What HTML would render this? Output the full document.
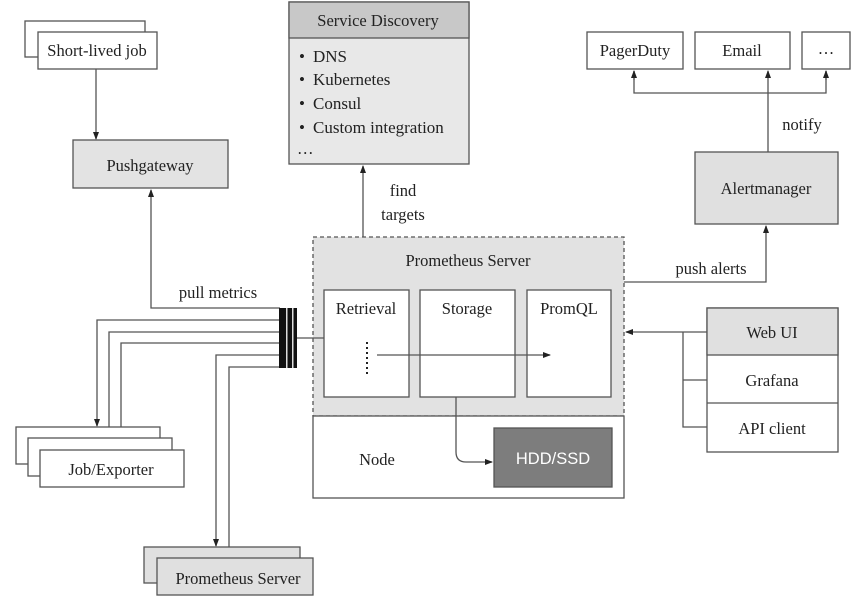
<!DOCTYPE html>
<html><head><meta charset="utf-8"><style>
body{margin:0;background:#fff}
svg text{font-family:"Liberation Serif",serif;font-size:16.5px;fill:#222}
svg text.l{font-size:17px}
</style></head><body>
<svg width="865" height="597" viewBox="0 0 865 597" xmlns="http://www.w3.org/2000/svg">
<defs><marker id="a" markerWidth="8" markerHeight="8" refX="7" refY="4" orient="auto" markerUnits="userSpaceOnUse"><path d="M0,1 L8,4 L0,7 Z" fill="#222"/></marker></defs>
<g stroke="#555" stroke-width="1.3" fill="none">
<rect x="25" y="21" width="120" height="36" fill="#fff"/>
<rect x="38" y="32" width="119" height="37" fill="#fff"/>
<line x1="96" y1="69" x2="96" y2="139" marker-end="url(#a)"/>
<rect x="73" y="140" width="155" height="48" fill="#e3e3e3"/>
<polyline points="280,308 151,308 151,190" marker-end="url(#a)"/>
<rect x="289" y="2" width="180" height="162" fill="#e8e8e8"/>
<rect x="289" y="2" width="180" height="36" fill="#c8c8c8"/>
<line x1="363" y1="290" x2="363" y2="166" marker-end="url(#a)"/>
<rect x="313" y="237" width="311" height="179" fill="#e2e2e2" stroke-dasharray="4,3"/>
<rect x="313" y="416" width="311" height="82" fill="#fff"/>
<rect x="324" y="290" width="85" height="107" fill="#fff"/>
<rect x="420" y="290" width="95" height="107" fill="#fff"/>
<rect x="527" y="290" width="84" height="107" fill="#fff"/>
<line x1="367" y1="342" x2="367" y2="374" stroke="#222" stroke-width="2" stroke-dasharray="2,3"/>
<line x1="377" y1="355" x2="550" y2="355" marker-end="url(#a)"/>
<rect x="494" y="428" width="118" height="59" fill="#7d7d7d"/>
<path d="M456,397 V452 Q456,462 466,462 H492" marker-end="url(#a)"/>
<line x1="297" y1="338" x2="324" y2="338"/>
<polyline points="280,320 97,320 97,426" marker-end="url(#a)"/>
<polyline points="280,332 109,332 109,437" marker-end="url(#a)"/>
<polyline points="280,343 121,343 121,449" marker-end="url(#a)"/>
<polyline points="280,355 216,355 216,546" marker-end="url(#a)"/>
<polyline points="280,367 229,367 229,557" marker-end="url(#a)"/>
<rect x="16" y="427" width="144" height="37" fill="#fff"/>
<rect x="28" y="438" width="144" height="38" fill="#fff"/>
<rect x="40" y="450" width="144" height="37" fill="#fff"/>
<rect x="144" y="547" width="156" height="36" fill="#e0e0e0"/>
<rect x="157" y="558" width="156" height="37" fill="#e0e0e0"/>
<rect x="587" y="32" width="96" height="37" fill="#fff"/>
<rect x="695" y="32" width="95" height="37" fill="#fff"/>
<rect x="802" y="32" width="48" height="37" fill="#fff"/>
<polyline points="634,71 634,93 826,93 826,71"/>
<line x1="634" y1="80" x2="634" y2="71" marker-end="url(#a)"/>
<line x1="826" y1="80" x2="826" y2="71" marker-end="url(#a)"/>
<line x1="768" y1="152" x2="768" y2="71" marker-end="url(#a)"/>
<rect x="695" y="152" width="143" height="72" fill="#e0e0e0"/>
<polyline points="624,282 766,282 766,226" marker-end="url(#a)"/>
<rect x="707" y="308" width="131" height="144" fill="#fff"/>
<rect x="707" y="308" width="131" height="47" fill="#e0e0e0"/>
<line x1="707" y1="403" x2="838" y2="403"/>
<polyline points="707,380 683,380"/>
<polyline points="707,427 683,427 683,332"/>
<line x1="707" y1="332" x2="626" y2="332" marker-end="url(#a)"/>
</g>
<rect x="279" y="308" width="18" height="60" fill="#111"/>
<rect x="286" y="308" width="1.5" height="60" fill="#ddd"/>
<rect x="292" y="308" width="1.5" height="60" fill="#ddd"/>
<text x="97" y="56" text-anchor="middle">Short-lived job</text>
<text x="150" y="171" text-anchor="middle">Pushgateway</text>
<text x="218" y="298" text-anchor="middle">pull metrics</text>
<text x="378" y="26" text-anchor="middle">Service Discovery</text>
<text class="l" x="299" y="62">•</text><text class="l" x="313" y="62">DNS</text>
<text class="l" x="299" y="85">•</text><text class="l" x="313" y="85">Kubernetes</text>
<text class="l" x="299" y="109">•</text><text class="l" x="313" y="109">Consul</text>
<text class="l" x="299" y="133">•</text><text class="l" x="313" y="133">Custom integration</text>
<text x="297" y="154">…</text>
<text x="403" y="196" text-anchor="middle">find</text>
<text x="403" y="220" text-anchor="middle">targets</text>
<text x="468" y="266" text-anchor="middle">Prometheus Server</text>
<text x="366" y="314" text-anchor="middle">Retrieval</text>
<text x="467" y="314" text-anchor="middle">Storage</text>
<text x="569" y="314" text-anchor="middle">PromQL</text>
<text x="377" y="465" text-anchor="middle">Node</text>
<text x="553" y="464" text-anchor="middle" style="font-family:'Liberation Sans',sans-serif;fill:#fff">HDD/SSD</text>
<text x="111" y="475" text-anchor="middle">Job/Exporter</text>
<text x="238" y="584" text-anchor="middle">Prometheus Server</text>
<text x="635" y="56" text-anchor="middle">PagerDuty</text>
<text x="742" y="56" text-anchor="middle">Email</text>
<text x="826" y="54" text-anchor="middle">…</text>
<text x="802" y="130" text-anchor="middle">notify</text>
<text x="766" y="194" text-anchor="middle">Alertmanager</text>
<text x="711" y="274" text-anchor="middle">push alerts</text>
<text x="772" y="338" text-anchor="middle">Web UI</text>
<text x="772" y="386" text-anchor="middle">Grafana</text>
<text x="772" y="434" text-anchor="middle">API client</text>
</svg>
</body></html>
